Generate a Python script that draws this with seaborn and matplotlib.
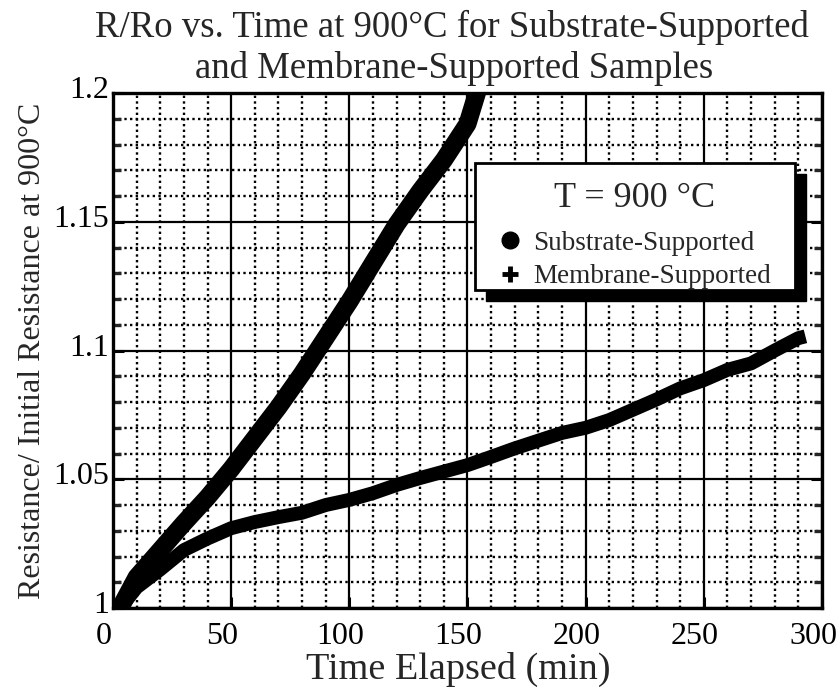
import numpy as np
import pandas as pd
import matplotlib
matplotlib.use("Agg")
import matplotlib.pyplot as plt
import seaborn as sns
from matplotlib.lines import Line2D
from matplotlib.patches import Rectangle
from matplotlib.ticker import MultipleLocator, FuncFormatter
from matplotlib.transforms import ScaledTranslation

# ---- data ----
sub_time = [3, 10, 20, 30, 40, 50, 60, 70, 80, 90, 100, 110, 120, 130, 140, 150, 154]
sub_ratio = [1.0, 1.012, 1.0225, 1.033, 1.043, 1.054, 1.066, 1.078, 1.091, 1.105,
             1.119, 1.134, 1.149, 1.162, 1.174, 1.188, 1.2]

mem_time = [3, 10, 20, 30, 40, 50, 60, 70, 80, 90, 100, 110, 120, 130, 140, 150,
            160, 170, 180, 190, 200, 210, 220, 230, 240, 250, 260, 270, 280, 290, 293]
mem_ratio = [1.0, 1.008, 1.015, 1.0225, 1.027, 1.031, 1.0334, 1.0353, 1.037, 1.040,
             1.042, 1.0446, 1.0478, 1.0505, 1.053, 1.0555, 1.0587, 1.062, 1.065, 1.068,
             1.070, 1.073, 1.077, 1.081, 1.0853, 1.0885, 1.0925, 1.095, 1.100, 1.1048, 1.1055]

series_names = ["Substrate-Supported", "Membrane-Supported"]
x_ticks = [0, 50, 100, 150, 200, 250, 300]
y_ticks = [1.0, 1.05, 1.1, 1.15, 1.2]
title_lines = ["R/Ro vs. Time at 900°C for Substrate-Supported",
               "and Membrane-Supported Samples"]

df_sub = pd.DataFrame({"t": sub_time, "r": sub_ratio})
df_mem = pd.DataFrame({"t": mem_time, "r": mem_ratio})

sns.set_style("white")
plt.rcParams["font.family"] = ["Liberation Serif", "DejaVu Serif"]

fig = plt.figure(figsize=(8.39, 6.90), dpi=100)
ax = fig.add_axes([0.1347, 0.1188, 0.8450, 0.7464])

sns.lineplot(data=df_sub, x="t", y="r", ax=ax, color="black", linewidth=13,
             solid_capstyle="round", solid_joinstyle="round", zorder=4)
sns.lineplot(data=df_mem, x="t", y="r", ax=ax, color="black", linewidth=10,
             solid_capstyle="butt", solid_joinstyle="round", zorder=4)

ax.set_xlim(0, 300)
ax.set_ylim(1.0, 1.2)
ax.set_xticks(x_ticks)
ax.set_yticks(y_ticks)
ax.xaxis.set_minor_locator(MultipleLocator(10))
ax.yaxis.set_minor_locator(MultipleLocator(0.01))
ax.yaxis.set_major_formatter(FuncFormatter(lambda v, p: f"{v:g}"))

ax.grid(which="major", color="black", linewidth=1.6, linestyle="-", zorder=1)
ax.grid(which="minor", color="black", linewidth=1.7, linestyle=(0, (1, 1.4)), zorder=1)
ax.set_axisbelow(True)

for s in ax.spines.values():
    s.set_linewidth(2.4)
    s.set_color("black")

ax.tick_params(which="major", direction="in", length=8, width=2.2, labelsize=23,
               colors="black", left=True, bottom=True, right=True)
ax.tick_params(axis="x", which="major", pad=10)
ax.tick_params(axis="y", which="major", pad=3)
ax.tick_params(which="minor", direction="in", length=6, width=2.4,
               left=True, right=True, bottom=False)

# shift tick labels like the reference (x labels slightly left, y labels slightly up)
for lbl in ax.get_xticklabels():
    lbl.set_transform(lbl.get_transform() + ScaledTranslation(-9 / 100, 0, fig.dpi_scale_trans))
for lbl in ax.get_yticklabels():
    lbl.set_transform(lbl.get_transform() + ScaledTranslation(0, 6 / 100, fig.dpi_scale_trans))

ax.set_xlabel("Time Elapsed (min)", fontsize=27.5)
ax.xaxis.set_label_coords(0.4866, -0.085)
ax.set_ylabel("Resistance/ Initial Resistance at 900°C", fontsize=23, labelpad=4)
fig.text(0.539, 0.960, title_lines[0], fontsize=26.5, ha="center", va="center")
fig.text(0.541, 0.901, title_lines[1], fontsize=26.5, ha="center", va="center")

# legend box with a hard black shadow
bx, by, bw, bh = 0.5106, 0.6175, 0.4513, 0.2466
ax.add_patch(Rectangle((bx + 0.0155, by - 0.0214), bw, bh, transform=ax.transAxes,
                       facecolor="black", edgecolor="black", zorder=8, clip_on=False))
ax.add_patch(Rectangle((bx, by), bw, bh, transform=ax.transAxes, facecolor="white",
                       edgecolor="black", linewidth=2, zorder=9, clip_on=False))

handles = [
    Line2D([], [], marker="o", linestyle="", color="black", markersize=12),
    Line2D([], [], marker="+", linestyle="", color="black", markersize=11, markeredgewidth=3.5),
]
leg = ax.legend(handles=handles, labels=series_names, title="T = 900 °C",
                loc="upper left", bbox_to_anchor=(bx, by, bw, 0.2272),
                mode="expand",
                fontsize=19.5, title_fontsize=26, frameon=False,
                borderpad=0.35, labelspacing=0.32, handletextpad=-0.09,
                handlelength=1.88, borderaxespad=0)
leg._legend_box.sep = 11
leg.set_zorder(10)

fig.savefig("out.png", dpi=100)
